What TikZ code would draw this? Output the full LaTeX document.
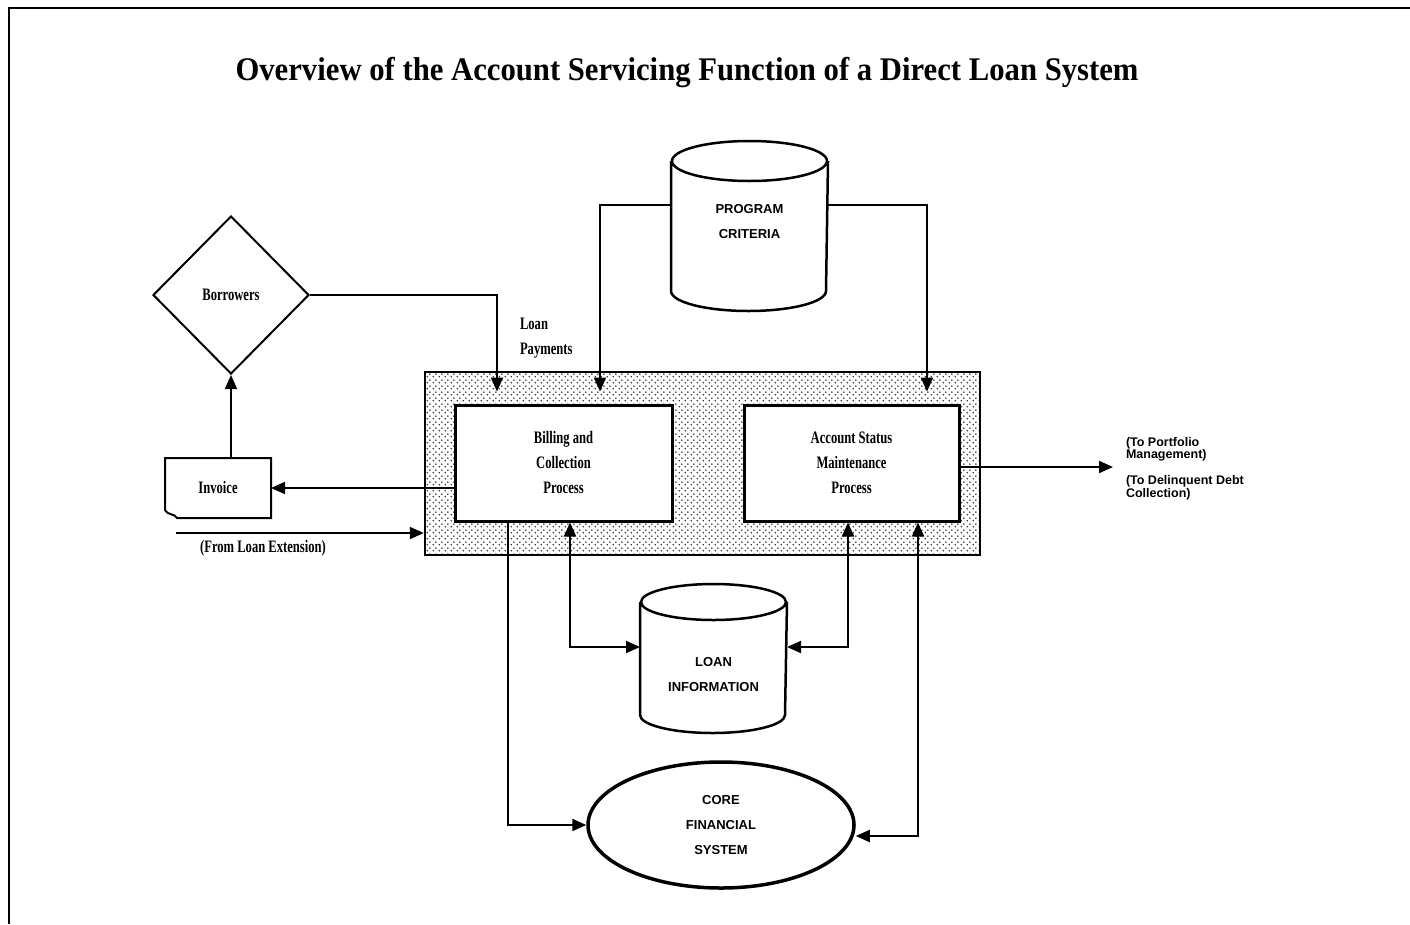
\documentclass[tikz,border=0pt]{standalone}
\usepackage{fontspec}
\usetikzlibrary{arrows.meta,shapes.geometric,patterns}
\newfontfamily\titlefont[FakeStretch=0.93]{Liberation Serif}
\newfontfamily\lblfont[FakeStretch=0.72]{Liberation Serif}
\newfontfamily\capfont{Liberation Sans}
\pgfdeclarepatternformonly{stipple}{\pgfpointorigin}{\pgfpoint{6pt}{6pt}}{\pgfpoint{6pt}{6pt}}{%
  \pgfpathcircle{\pgfpoint{1.5pt}{1.5pt}}{0.95pt}%
  \pgfpathcircle{\pgfpoint{4.5pt}{4.5pt}}{0.95pt}%
  \pgfusepath{fill}}

\begin{document}
\begin{tikzpicture}[->,>={Triangle[length=14pt,width=12pt]},x=1pt,y=-1pt,
  line width=2pt]
  \tikzstyle{lbl}=[font=\lblfont\bfseries\fontsize{17.5}{25}\selectfont,align=center,inner sep=0pt]
  \tikzstyle{dbtext}=[font=\capfont\bfseries\fontsize{13}{25}\selectfont,align=center,inner sep=0pt]
  \tikzstyle{proc}=[lbl,draw,fill=white,line width=3pt,minimum width=217pt,minimum height=116pt]
  \tikzstyle{db}=[dbtext,minimum width=155pt,minimum height=168pt]
  \useasboundingbox (0,0) rectangle (1410,924);

  \draw[-,line width=2.5pt] (9,924) -- (9,8) -- (1410,8);
  \node[lbl,font=\titlefont\bfseries\fontsize{33}{33}\selectfont] (title) at (687,73)
    {Overview of the Account Servicing Function of a Direct Loan System};

  \node[draw,pattern=stipple,pattern color=black!85,line width=2.5pt,
    minimum width=555pt,minimum height=183pt] (svc) at (702.5,463.5) {};
  \node[proc]                   (bill) at (563.5,463) {Billing and\\Collection\\Process};
  \node[proc,minimum width=215pt] (acct) at (851.5,463) {Account Status\\Maintenance\\Process};

  \node[lbl,diamond,draw,minimum width=156pt,minimum height=158pt] (bor) at (231,295) {Borrowers};
  \node[lbl,minimum width=104pt,minimum height=58pt] (inv) at (218,488) {Invoice};
  \draw[-] (inv.south east) -- (inv.north east) -- (inv.north west) -- ([yshift=8pt]inv.south west)
    .. controls ([xshift=4pt,yshift=2pt]inv.south west) and ([xshift=9pt,yshift=5pt]inv.south west)
    .. ([xshift=12pt]inv.south west) -- cycle;

  \node[db] (crit) at (749.5,226) [label={[dbtext,yshift=4pt]center:{PROGRAM\\CRITERIA}}] {};
  \draw[-,line width=2.5pt] ([yshift=-20pt]crit.north west) -- ([yshift=20pt]crit.south west)
    arc[start angle=180,end angle=0,x radius=77.5,y radius=20] -- ([yshift=-20pt]crit.north east)
    ([yshift=-20pt]crit.north) ellipse[x radius=77.5,y radius=20];

  \node[db,minimum width=145pt,minimum height=147pt] (loan) at (713.5,658.5)
    [label={[dbtext,yshift=-16.5pt]center:{LOAN\\INFORMATION}}] {};
  \draw[-,line width=2.5pt] ([yshift=-18pt]loan.north west) -- ([yshift=18pt]loan.south west)
    arc[start angle=180,end angle=0,x radius=72.5,y radius=18] -- ([yshift=-18pt]loan.north east)
    ([yshift=-18pt]loan.north) ellipse[x radius=72.5,y radius=18];

  \node[dbtext,ellipse,draw,line width=3.5pt,minimum width=266pt,minimum height=126pt] (core) at (721,825)
    {CORE\\FINANCIAL\\SYSTEM};

  \node[lbl,align=left,anchor=west] (pay) at (519,338) {Loan\\Payments};
  \node[lbl] (extlbl) at (263,548) {(From Loan Extension)};
  \node[dbtext,font=\capfont\bfseries\fontsize{12.5}{12.8}\selectfont,align=left,anchor=north west] (dest)
    at (1125,436) {(To Portfolio\\Management)\\[13pt](To Delinquent Debt\\Collection)};

  \coordinate (ext) at (176,533);
  \coordinate (out) at (1113,467);

  \draw[shorten >=12pt] (bor.east) -| ([xshift=-66.5pt]bill.north);
  \draw[shorten >=12pt] ([yshift=21pt]crit.west) -| ([xshift=36.5pt]bill.north);
  \draw[shorten >=12pt] ([yshift=21pt]crit.east) -| ([xshift=75.5pt]acct.north);
  \draw ([yshift=-25pt]bill.west) -- (inv.east);
  \draw ([xshift=13pt]inv.north) -- (bor.south);
  \draw (ext) -- (ext -| svc.west);
  \draw (acct.east |- out) -- (out);
  \draw[<->] ([xshift=6.5pt]bill.south) |- ([yshift=11.5pt]loan.west);
  \draw[<->] ([xshift=-3.5pt]acct.south) |- ([yshift=11.5pt]loan.east);
  \draw ([xshift=-55.5pt]bill.south) |- (core.west);
  \draw[<->] ([xshift=66.5pt]acct.south) |- ([yshift=-11pt]core.east);
\end{tikzpicture}
\end{document}
